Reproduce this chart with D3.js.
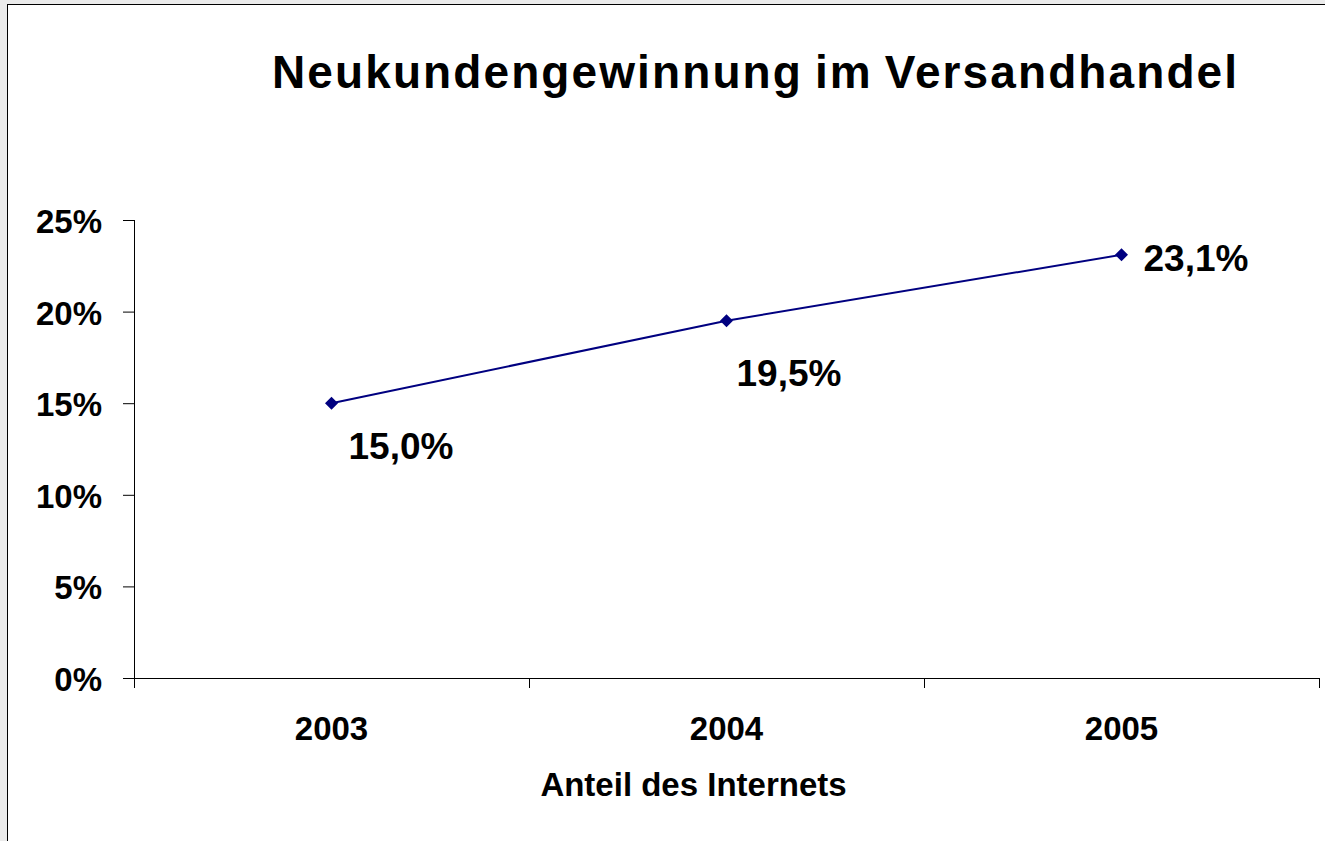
<!DOCTYPE html>
<html>
<head>
<meta charset="utf-8">
<script src="https://cdn.jsdelivr.net/npm/d3@7/dist/d3.min.js"></script>
<style>
  html, body { margin: 0; padding: 0; background: #ebebeb; overflow: hidden; }
  svg { display: block; font-family: Arial, "Liberation Sans", sans-serif; font-weight: bold; }
</style>
</head>
<body>
<div id="chart"></div>
<script>
// chart data
const years = ["2003", "2004", "2005"];
const shares = [15.0, 19.5, 23.1];
const yTicks = [0, 5, 10, 15, 20, 25];
const titleText = "Neukundengewinnung im Versandhandel";
const xTitle = "Anteil des Internets";

// label placement relative to the point (layout only)
const labelOffsets = [[17, 56], [10, 65], [22, 16]];

const width = 1325, height = 841;
const margin = { left: 134, right: 6, top: 220, bottom: 163 };

const svg = d3.select("#chart")
  .append("svg")
  .attr("width", width)
  .attr("height", height);

// white chart area with a thin frame (right/bottom edge off screen)
svg.append("rect")
  .attr("x", 7.5)
  .attr("y", 4.5)
  .attr("width", width + 20)
  .attr("height", height + 20)
  .style("fill", "#fff")
  .style("stroke", "#000")
  .style("stroke-width", 1);

const x = d3.scaleBand()
  .domain(years)
  .range([margin.left, width - margin.right]);

const y = d3.scaleLinear()
  .domain([0, 25])
  .range([height - margin.bottom, margin.top]);

// title
svg.append("text")
  .attr("x", 272)
  .attr("y", 88)
  .style("font-size", "46px")
  .style("letter-spacing", "2.1px")
  .style("word-spacing", "-3px")
  .text(titleText);

// y axis
const yAxis = svg.append("g")
  .attr("transform", `translate(${margin.left},0)`)
  .call(d3.axisLeft(y).tickValues(yTicks).tickSize(11).tickPadding(21)
    .tickFormat(d => d + "%"));
yAxis.select(".domain").attr("d", `M0.5,${y(25)}V${y(0)}`).style("stroke", "#000");
yAxis.selectAll(".tick line").style("stroke", "#000");
yAxis.selectAll(".tick text")
  .style("font-size", "33px")
  .style("fill", "#000")
  .attr("dy", "0.38em");

// x axis with ticks at the band edges
const xAxisG = svg.append("g")
  .attr("transform", `translate(0,${y(0)})`);
xAxisG.append("line")
  .attr("x1", margin.left)
  .attr("x2", width - margin.right)
  .attr("y1", 0.5).attr("y2", 0.5)
  .style("stroke", "#000");
const edges = years.map(d => x(d)).concat([x(years[years.length - 1]) + x.bandwidth()]);
xAxisG.selectAll(".edge")
  .data(edges)
  .enter()
  .append("line")
  .attr("x1", d => Math.round(d) + 0.5)
  .attr("x2", d => Math.round(d) + 0.5)
  .attr("y1", 0)
  .attr("y2", 10)
  .style("stroke", "#000");
xAxisG.selectAll(".xlabel")
  .data(years)
  .enter()
  .append("text")
  .attr("x", d => x(d) + x.bandwidth() / 2)
  .attr("y", 62)
  .attr("text-anchor", "middle")
  .style("font-size", "33px")
  .text(d => d);

// x axis title
svg.append("text")
  .attr("x", (x.range()[0] + x.range()[1]) / 2 - 33)
  .attr("y", 796)
  .attr("text-anchor", "middle")
  .style("font-size", "33px")
  .text(xTitle);

// line
const line = d3.line()
  .x((d, i) => x(years[i]) + x.bandwidth() / 2)
  .y(d => y(d));

svg.append("path")
  .datum(shares)
  .attr("d", line)
  .style("fill", "none")
  .style("stroke", "#000080")
  .style("stroke-width", 2);

// diamond markers
svg.selectAll(".marker")
  .data(shares)
  .enter()
  .append("path")
  .attr("transform", (d, i) => `translate(${x(years[i]) + x.bandwidth() / 2},${y(d)})`)
  .attr("d", "M0,-6.5L6.5,0L0,6.5L-6.5,0Z")
  .style("fill", "#000080");

// data labels
svg.selectAll(".label")
  .data(shares)
  .enter()
  .append("text")
  .attr("x", (d, i) => x(years[i]) + x.bandwidth() / 2 + labelOffsets[i][0])
  .attr("y", (d, i) => y(d) + labelOffsets[i][1])
  .style("font-size", "37px")
  .text(d => d.toFixed(1).replace(".", ",") + "%");
</script>
</body>
</html>
